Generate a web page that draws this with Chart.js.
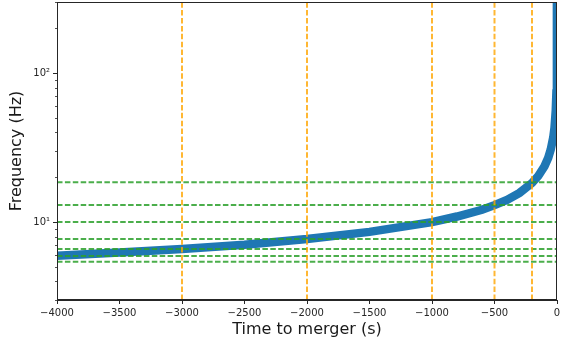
<!DOCTYPE html>
<html>
<head>
<meta charset="utf-8">
<script src="https://cdn.jsdelivr.net/npm/chart.js@4/dist/chart.umd.min.js"></script>
<style>
  html, body { margin: 0; padding: 0; background: #fff; }
  #wrap { width: 561px; height: 341px; position: relative; }
</style>
</head>
<body>
<div id="wrap"><canvas id="c" width="561" height="341"></canvas></div>
<script>
// Chirp track: time to merger (s) and frequency (Hz)
const chirpTime = [-4000, -3500, -3000, -2500, -2000, -1500, -1000, -800, -600, -500, -400, -300, -200, -150, -100, -70, -50, -30, -20, -10, -5, -2, -1, -0.5, -0.2, -0.1];
const chirpFreq = [5.95, 6.25, 6.6, 7.05, 7.7, 8.6, 10.0, 10.9, 12.1, 13.0, 14.1, 15.7, 18.3, 20.4, 23.7, 27.0, 30.7, 37, 43, 56, 73, 104, 136, 180, 255, 320];
// Reference markers
const vLineTimes = [-3000, -2000, -1000, -500, -200, 0];
const hLineFreqs = [18.5, 13.0, 10.0, 7.69, 6.59, 5.92, 5.42];
// Axes
const xMin = -4000, xMax = 0, xStep = 500;
const yMin = 3, yMax = 300;
const yMajor = [10, 100];
const yMinor = [3, 4, 5, 6, 7, 8, 9, 20, 30, 40, 50, 60, 70, 80, 90, 200, 300];

const FONT = "'DejaVu Sans', sans-serif";
const sup = {'0':'⁰','1':'¹','2':'²','3':'³'};

const datasets = [];
datasets.push({
  data: chirpTime.map((t, i) => ({x: t, y: chirpFreq[i]})),
  borderColor: '#1f77b4',
  borderWidth: 8.5,
  pointRadius: 0,
  tension: 0,
  fill: false,
  clip: 0,
  order: 10
});
hLineFreqs.forEach(f => datasets.push({
  data: [{x: xMin, y: f}, {x: xMax, y: f}],
  borderColor: 'rgba(44,160,44,0.85)',
  borderWidth: 2,
  borderDash: [5.5, 2.4],
  pointRadius: 0,
  fill: false,
  clip: 0,
  order: 1
}));
vLineTimes.forEach(t => datasets.push({
  data: [{x: t, y: yMin}, {x: t, y: yMax}],
  borderColor: 'rgba(255,165,0,0.8)',
  borderWidth: 2,
  borderDash: [5.5, 2.4],
  pointRadius: 0,
  fill: false,
  clip: 0,
  order: 0
}));

const framePlugin = {
  id: 'frame',
  afterDraw(chart) {
    const {ctx, chartArea: a, scales} = chart;
    ctx.save();
    ctx.strokeStyle = '#262626';
    ctx.lineWidth = 1;
    ctx.strokeRect(Math.round(a.left) + 0.5, Math.round(a.top) + 0.5, Math.round(a.right - a.left) - 1, Math.round(a.bottom - a.top) - 1);
    // minor y ticks
    const y = scales.y;
    ctx.beginPath();
    yMinor.forEach(v => {
      const p = Math.round(y.getPixelForValue(v)) + 0.5;
      ctx.moveTo(a.left, p); ctx.lineTo(a.left - 2, p);
    });
    ctx.lineWidth = 0.8;
    ctx.stroke();
    ctx.restore();
  }
};

new Chart(document.getElementById('c'), {
  type: 'line',
  data: { datasets },
  plugins: [framePlugin],
  options: {
    responsive: false,
    animation: false,
    devicePixelRatio: 1,
    layout: { padding: { top: 2, right: 4, left: 0, bottom: 0 } },
    plugins: { legend: { display: false }, tooltip: { enabled: false } },
    scales: {
      x: {
        type: 'linear',
        min: xMin, max: xMax,
        ticks: {
          stepSize: xStep,
          color: '#262626',
          font: { family: FONT, size: 10 },
          padding: 3,
          maxRotation: 0,
          autoSkip: false,
          callback: v => String(v).replace('-', '\u2212')
        },
        grid: { display: true, drawOnChartArea: false, drawTicks: true, tickLength: 4, color: '#262626', tickColor: '#262626' },
        border: { display: true, color: '#262626' },
        title: { display: true, text: 'Time to merger (s)', color: '#1a1a1a', font: { family: FONT, size: 16 }, padding: { top: 2, bottom: 2 } },
        afterFit: s => { s.height = 41; s.paddingLeft = 0; s.paddingRight = 0; }
      },
      y: {
        type: 'logarithmic',
        min: yMin, max: yMax,
        afterBuildTicks: s => { s.ticks = yMajor.map(v => ({value: v, major: true})); },
        ticks: {
          color: '#262626',
          font: { family: FONT, size: 10 },
          padding: 3,
          callback: v => '10' + String(Math.round(Math.log10(v))).split('').map(c => sup[c]).join('')
        },
        grid: { display: true, drawOnChartArea: false, drawTicks: true, tickLength: 4, color: '#262626', tickColor: '#262626' },
        border: { display: true, color: '#262626' },
        title: { display: true, text: 'Frequency (Hz)', color: '#1a1a1a', font: { family: FONT, size: 16 }, padding: { top: 7, bottom: 4 } },
        afterFit: s => { s.width = 57; s.paddingTop = 0; s.paddingBottom = 0; }
      }
    }
  }
});
</script>
</body>
</html>
